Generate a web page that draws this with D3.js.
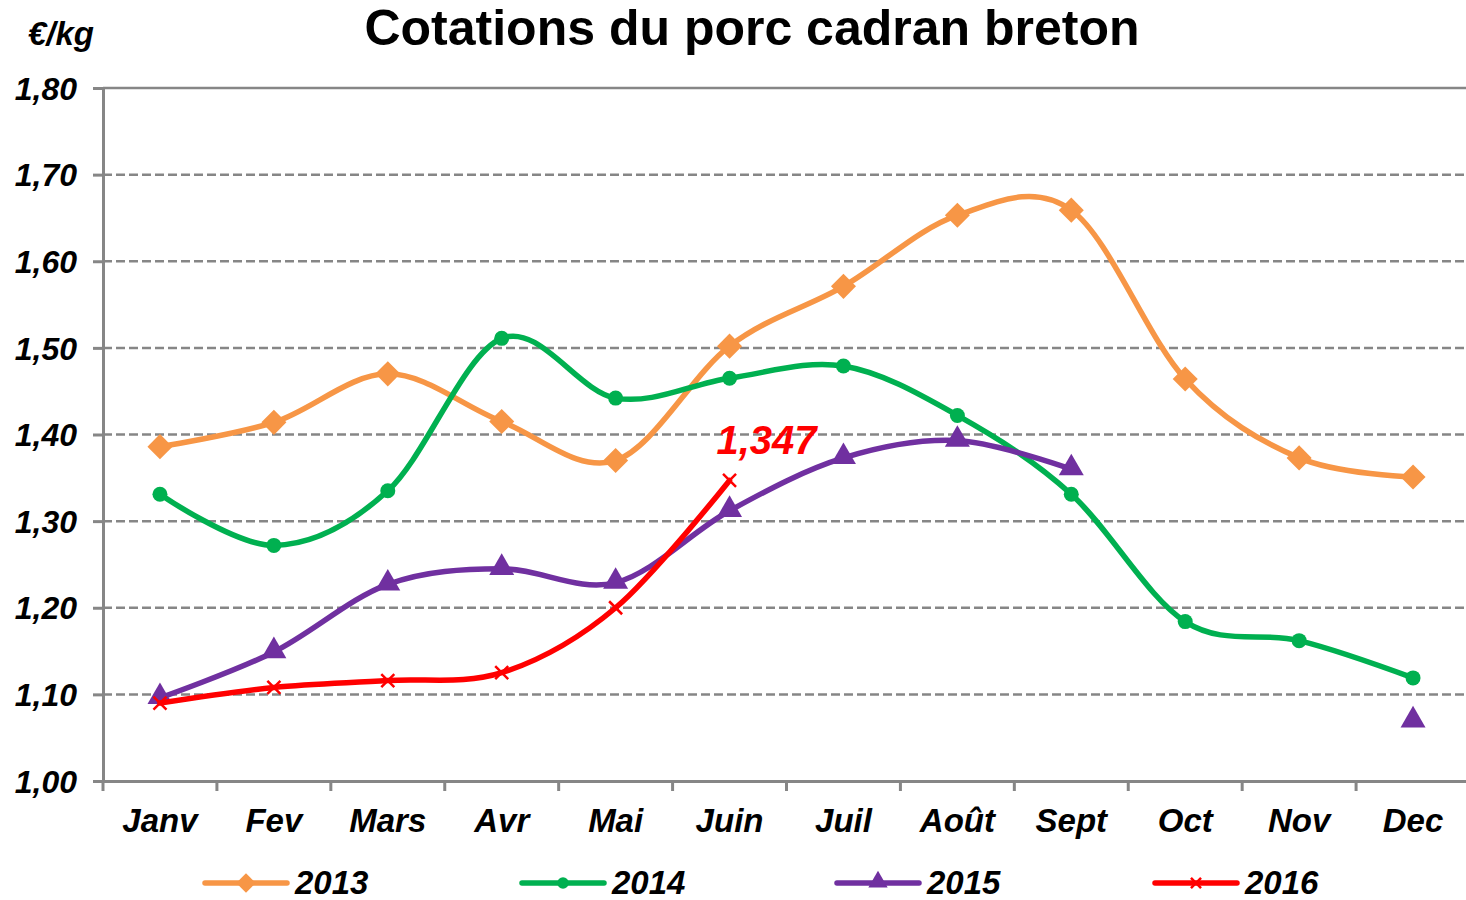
<!DOCTYPE html>
<html>
<head>
<meta charset="utf-8">
<script src="https://cdn.jsdelivr.net/npm/d3@7"></script>
<style>
  body { margin: 0; background: #fff; }
  text { font-family: "Liberation Sans", Arial, sans-serif; }
</style>
</head>
<body>
<div id="chart"></div>
<script>
// months and yearly prices (€/kg)
var months = ["Janv", "Fev", "Mars", "Avr", "Mai", "Juin", "Juil", "Août", "Sept", "Oct", "Nov", "Dec"];
var y2013 = [1.386, 1.414, 1.470, 1.415, 1.370, 1.502, 1.571, 1.653, 1.659, 1.464, 1.373, 1.351];
var y2014 = [1.331, 1.272, 1.335, 1.511, 1.442, 1.465, 1.479, 1.422, 1.331, 1.184, 1.162, 1.119];
var y2015 = [1.096, 1.149, 1.227, 1.245, 1.229, 1.312, 1.373, 1.393, 1.360, null, null, 1.069];
var y2016 = [1.090, 1.108, 1.116, 1.125, 1.200, 1.347, null, null, null, null, null, null];
var yTicks = [1.0, 1.1, 1.2, 1.3, 1.4, 1.5, 1.6, 1.7, 1.8];

var series = [
  {name: "2013", values: y2013, color: "#F79646", marker: "diamond"},
  {name: "2014", values: y2014, color: "#00B050", marker: "circle"},
  {name: "2015", values: y2015, color: "#7030A0", marker: "triangle"},
  {name: "2016", values: y2016, color: "#FF0000", marker: "cross"}
];

var W = 1466, H = 900;
var margin = {top: 88, left: 103, right: -4, bottom: 119};
var width = W - margin.left - margin.right,
    height = H - margin.top - margin.bottom;

var svg = d3.select("#chart").append("svg")
    .attr("width", W).attr("height", H);

var fmt = function(v) { return d3.format(".2f")(v).replace(".", ","); };

var xScale = d3.scaleBand().domain(months).range([0, width]);
var yScale = d3.scaleLinear().domain([1.0, 1.8]).range([height, 0]);

var g = svg.append("g")
    .attr("transform", "translate(" + margin.left + "," + margin.top + ")");

// title + unit
svg.append("text")
    .attr("x", 752).attr("y", 45)
    .attr("text-anchor", "middle")
    .attr("font-size", "50px").attr("font-weight", "bold")
    .text("Cotations du porc cadran breton");
svg.append("text")
    .attr("x", 28).attr("y", 45)
    .attr("font-size", "33px").attr("font-weight", "bold").attr("font-style", "italic")
    .text("€/kg");

// gridlines
g.selectAll(".grid")
    .data(yTicks.filter(function(d) { return d > 1.0; }))
    .enter().append("line")
    .attr("x1", 0).attr("x2", width)
    .attr("y1", function(d) { return yScale(d); })
    .attr("y2", function(d) { return yScale(d); })
    .attr("stroke", "#868686").attr("stroke-width", 2.5)
    .attr("stroke-dasharray", function(d) { return d === 1.8 ? null : "9,4"; });

// y axis
var yAxis = g.append("g")
    .call(d3.axisLeft(yScale).tickValues(yTicks).tickFormat(fmt).tickSize(10).tickPadding(16));
yAxis.select(".domain").attr("stroke", "#868686").attr("stroke-width", 3);
yAxis.selectAll(".tick line").attr("stroke", "#868686").attr("stroke-width", 3);
yAxis.selectAll(".tick text")
    .attr("font-size", "32px").attr("font-weight", "bold").attr("font-style", "italic")
    .attr("fill", "#000").attr("dy", "0.35em");

// x axis
var xAxis = g.append("g")
    .attr("transform", "translate(0," + height + ")")
    .call(d3.axisBottom(xScale).tickSize(0).tickPadding(28));
xAxis.select(".domain").attr("stroke", "#868686").attr("stroke-width", 3);
xAxis.selectAll(".tick text")
    .attr("font-size", "33px").attr("font-weight", "bold").attr("font-style", "italic")
    .attr("fill", "#000");
xAxis.selectAll(".sep")
    .data(months)
    .enter().append("line")
    .attr("x1", function(d) { return xScale(d); })
    .attr("x2", function(d) { return xScale(d); })
    .attr("y1", 0).attr("y2", 10)
    .attr("stroke", "#868686").attr("stroke-width", 3);

// marker shapes
function drawMarker(sel, type, color, s) {
  s = s || 1;
  if (type === "diamond") {
    sel.append("path").attr("d", d3.symbol().type(d3.symbolDiamond2).size(400 * s))
      .attr("fill", color);
  } else if (type === "circle") {
    sel.append("circle").attr("r", 7.5 * Math.sqrt(s)).attr("fill", color);
  } else if (type === "triangle") {
    sel.append("path").attr("d", d3.symbol().type(d3.symbolTriangle).size(270 * s))
      .attr("transform", "translate(0,-1)").attr("fill", color);
  } else {
    var r = 6.5 * Math.sqrt(s);
    sel.append("path").attr("d", "M" + -r + "," + -r + "L" + r + "," + r + "M" + -r + "," + r + "L" + r + "," + -r)
      .attr("stroke", color).attr("stroke-width", 2.5);
  }
}

var line = d3.line()
    .defined(function(d) { return d.v != null; })
    .x(function(d) { return xScale(d.m) + xScale.bandwidth() / 2; })
    .y(function(d) { return yScale(d.v); })
    .curve(d3.curveCardinal.tension(0));

series.forEach(function(s) {
  var pts = months.map(function(m, i) { return {m: m, v: s.values[i]}; });
  g.append("path")
    .datum(pts)
    .attr("d", line)
    .attr("fill", "none")
    .attr("stroke", s.color)
    .attr("stroke-width", 5.5)
    .attr("stroke-linecap", "round");
  g.selectAll(".mk" + s.name)
    .data(pts.filter(function(d) { return d.v != null; }))
    .enter().append("g")
    .attr("transform", function(d) {
      return "translate(" + (xScale(d.m) + xScale.bandwidth() / 2) + "," + yScale(d.v) + ")";
    })
    .each(function() { drawMarker(d3.select(this), s.marker, s.color); });
});

// last 2016 value label
g.append("text")
    .attr("x", xScale("Juin") + xScale.bandwidth() / 2 + 37)
    .attr("y", yScale(1.347) - 26)
    .attr("text-anchor", "middle")
    .attr("font-size", "40px").attr("font-weight", "bold").attr("font-style", "italic")
    .attr("fill", "#FF0000")
    .text("1,347");

// legend
var legX = [205, 522, 837, 1155];
var leg = svg.selectAll(".leg")
    .data(series)
    .enter().append("g")
    .attr("transform", function(d, i) { return "translate(" + legX[i] + ",883)"; });
leg.append("line")
    .attr("x1", 0).attr("x2", 82)
    .attr("stroke", function(d) { return d.color; })
    .attr("stroke-width", 5.5).attr("stroke-linecap", "round");
leg.each(function(d) {
  var m = d3.select(this).append("g").attr("transform", "translate(41,0)");
  drawMarker(m, d.marker, d.color, 0.6);
});
leg.append("text")
    .attr("x", 90).attr("y", 11)
    .attr("font-size", "33px").attr("font-weight", "bold").attr("font-style", "italic")
    .text(function(d) { return d.name; });
</script>
</body>
</html>
